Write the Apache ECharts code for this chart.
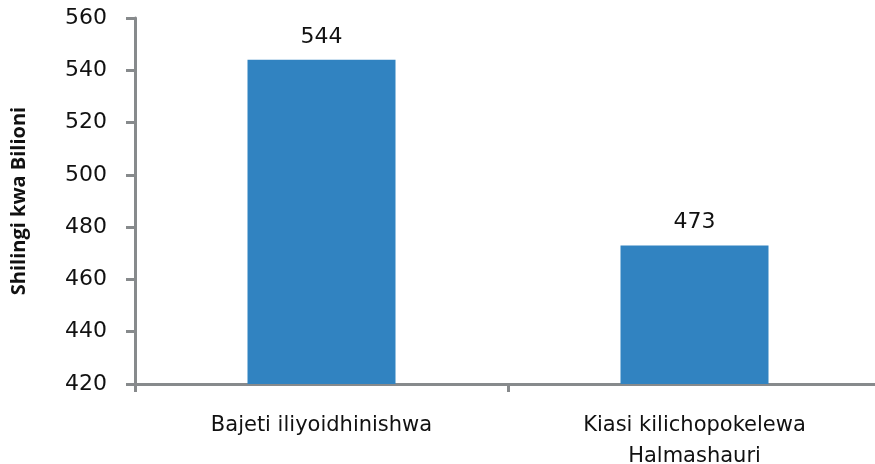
<!DOCTYPE html>
<html>
<head>
<meta charset="utf-8">
<script src="https://cdn.jsdelivr.net/npm/echarts@6/dist/echarts.min.js"></script>
<style>
html,body{margin:0;padding:0;background:#fff;}
#chart{width:875px;height:464px;}
</style>
</head>
<body>
<div id="chart"></div>
<script>
const categories = ["Bajeti iliyoidhinishwa", "Kiasi kilichopokelewa\nHalmashauri"];
const values = [544, 473];
const yAxisName = "Shilingi kwa Bilioni";
const yMin = 420, yMax = 560, yInterval = 20;

const chart = echarts.init(document.getElementById('chart'), null, {renderer: 'canvas'});
const axisColor = '#878a8c';
chart.setOption({
  animation: false,
  grid: {left: 135, top: 18, width: 746, height: 366, containLabel: false, outerBoundsMode: 'none'},
  xAxis: {
    type: 'category',
    data: categories,
    axisLine: {lineStyle: {color: axisColor, width: 3}},
    axisTick: {show: true, alignWithLabel: false, length: 8, lineStyle: {color: axisColor, width: 3}},
    axisLabel: {
      color: '#111', fontFamily: 'DejaVu Sans', fontSize: 21, margin: 26,
      lineHeight: 31, interval: 0
    }
  },
  yAxis: {
    type: 'value',
    min: yMin, max: yMax, interval: yInterval,
    name: yAxisName,
    nameLocation: 'middle',
    nameGap: 106,
    nameTextStyle: {fontFamily: 'Open Sans', fontWeight: 'bold', fontSize: 20, color: '#111'},
    axisLine: {show: true, lineStyle: {color: axisColor, width: 3}},
    axisTick: {show: true, length: 9, lineStyle: {color: axisColor, width: 3}},
    splitLine: {show: false},
    axisLabel: {color: '#111', fontFamily: 'DejaVu Sans', fontSize: 22, margin: 28}
  },
  series: [{
    type: 'bar',
    data: values,
    barWidth: 148,
    itemStyle: {color: '#3183c1'},
    label: {show: true, position: 'top', distance: 12, color: '#111', fontFamily: 'DejaVu Sans', fontSize: 22}
  }]
});
</script>
</body>
</html>
